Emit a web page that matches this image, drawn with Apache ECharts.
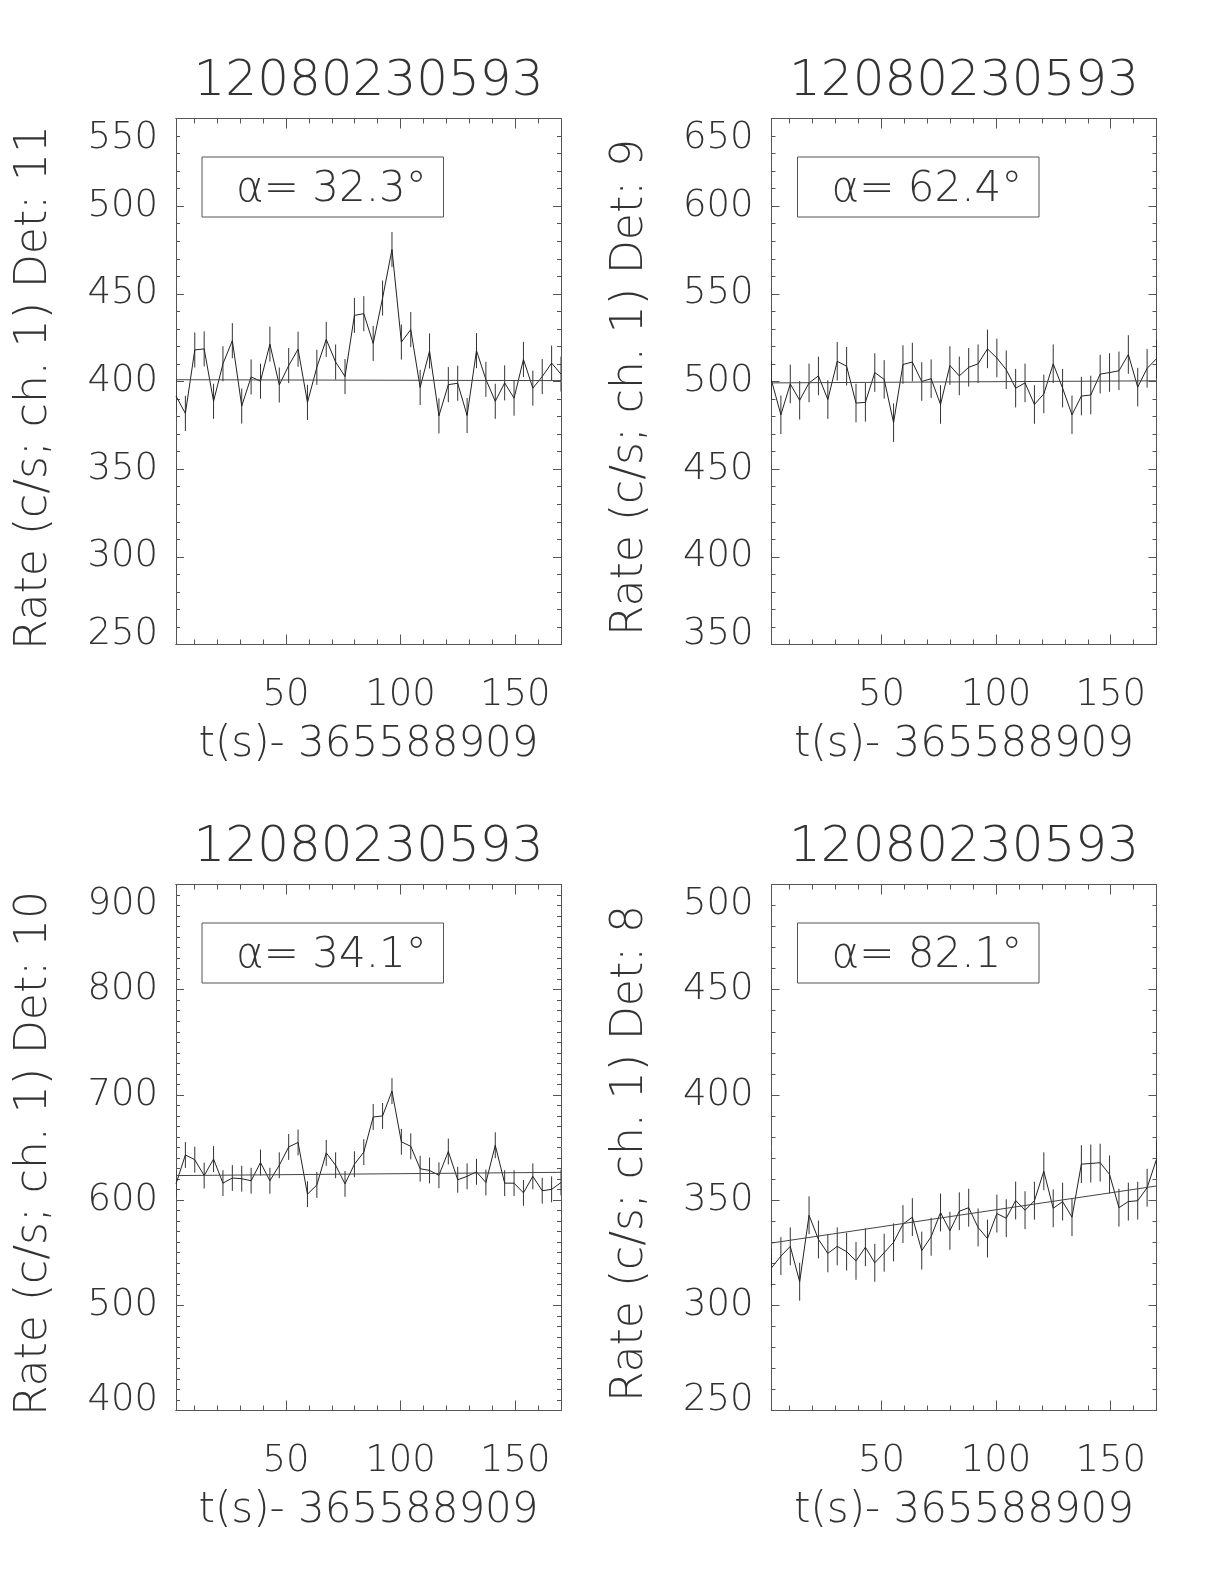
<!DOCTYPE html>
<html>
<head>
<meta charset="utf-8">
<script src="https://cdn.jsdelivr.net/npm/echarts@6/dist/echarts.min.js"></script>
<style>
html,body{margin:0;padding:0;background:#fff;}
#chart{width:1224px;height:1584px;}
</style>
</head>
<body>
<div id="chart"></div>
<script>
// ---------------- data ----------------
const burstName = '12080230593';
const xTitle = 't(s)- 365588909';
const times = [2.048, 6.144, 10.24, 14.336, 18.432, 22.528, 26.624, 30.72, 34.816, 38.912,
  43.008, 47.104, 51.2, 55.296, 59.392, 63.488, 67.584, 71.68, 75.776, 79.872,
  83.968, 88.064, 92.16, 96.256, 100.352, 104.448, 108.544, 112.64, 116.736, 120.832,
  124.928, 129.024, 133.12, 137.216, 141.312, 145.408, 149.504, 153.6, 157.696, 161.792,
  165.888, 169.984];
const xMajorTicks = [50, 100, 150];
const xMinorTicks = [10, 20, 30, 40, 60, 70, 80, 90, 110, 120, 130, 140, 160];

const rateDet11 = [391.7, 381.8, 418.0, 418.6, 388.7, 410.1, 423.3, 386.0, 402.6, 400.2,
  421.3, 398.0, 409.1, 418.4, 388.1, 408.1, 424.0, 411.1, 402.8, 437.7,
  438.7, 421.7, 447.6, 475.3, 422.5, 429.6, 396.6, 417.4, 380.4, 398.2,
  399.0, 380.6, 417.6, 401.2, 388.7, 399.2, 390.5, 412.6, 396.2, 402.8,
  410.5, 404.2];
const rateDet9 = [500.6, 481.0, 498.6, 489.3, 499.2, 503.2, 489.7, 511.5, 508.7, 487.7,
  488.1, 505.1, 501.2, 476.5, 509.7, 511.1, 500.0, 501.6, 486.9, 509.1,
  503.2, 508.1, 510.1, 518.6, 513.4, 506.7, 496.2, 499.2, 486.9, 492.9,
  510.1, 496.2, 481.0, 491.7, 492.3, 504.2, 505.1, 506.1, 515.4, 496.8,
  507.5, 513.0];
const rateDet10 = [615.4, 642.9, 638.4, 623.3, 639.0, 616.1, 621.0, 620.3, 618.4, 635.7,
  618.4, 633.1, 650.5, 654.8, 605.6, 614.4, 644.9, 633.1, 615.4, 634.1,
  645.6, 679.0, 680.0, 703.6, 655.4, 651.1, 629.8, 628.2, 623.6, 646.2,
  619.3, 622.6, 626.9, 616.7, 652.1, 616.1, 616.1, 606.9, 622.6, 608.9,
  610.2, 616.7];
const rateDet8 = [317.8, 323.4, 328.0, 311.2, 342.8, 331.3, 324.7, 328.0, 325.5, 321.1,
  327.6, 320.2, 325.0, 329.9, 338.6, 341.9, 326.0, 332.6, 344.1, 335.4,
  344.7, 346.4, 337.0, 331.7, 343.6, 341.4, 349.8, 345.2, 349.7, 363.7,
  346.1, 349.3, 341.9, 367.1, 367.4, 367.8, 362.2, 346.4, 349.3, 349.7,
  355.9, 369.4];

// error bar half-widths (c/s)
const errDet11 = 10.0;
const errDet9 = 11.0;
const errDet10 = 12.3;
const errDet8 = 9.0;

// linear background fit, values at first and last time
const fitDet11 = [401.0, 400.5];
const fitDet9 = [499.2, 500.4];
const fitDet10 = [623.3, 626.4];
const fitDet8 = [329.6, 356.7];

const detectors = ['11', '9', '10', '8'];
const angles = ['32.3', '62.4', '34.1', '82.1'];
const yRanges = [[250, 550, 50], [350, 650, 50], [400, 900, 100], [250, 500, 50]];

// ---------------- layout ----------------
const FONT = "'DejaVu Sans', 'Liberation Sans', sans-serif";
const TXT = '#333';
const AX = '#555';
const gridPos = [
  {left: 176, top: 118.5},
  {left: 771.5, top: 118.5},
  {left: 176, top: 884.5},
  {left: 771.5, top: 884.5}
];
const GW = 385, GH = 526;

const rates = [rateDet11, rateDet9, rateDet10, rateDet8];
const errs = [errDet11, errDet9, errDet10, errDet8];
const fits = [fitDet11, fitDet9, fitDet10, fitDet8];
const tMin = times[0], tMax = times[times.length - 1];

const grids = [], xAxes = [], yAxes = [], series = [], titles = [], graphics = [];

gridPos.forEach((g, k) => {
  grids.push({left: g.left, top: g.top, width: GW, height: GH, containLabel: false, outerBoundsMode: 'none'});
  const baseX = {
    type: 'value', gridIndex: k, min: tMin, max: tMax, splitLine: {show: false},
    axisLine: {show: true, onZero: false, lineStyle: {color: AX, width: 1}},
    axisLabel: {show: false}
  };
  const tickStyle = {color: AX, width: 1};
  xAxes.push(Object.assign({}, baseX, {
    position: 'bottom',
    axisTick: {show: true, inside: true, length: 10, customValues: xMajorTicks, lineStyle: tickStyle},
    axisLabel: {show: true, customValues: xMajorTicks, fontSize: 37, fontFamily: FONT, fontWeight: 200, color: TXT, margin: 32},
    name: xTitle, nameLocation: 'middle', nameGap: 80,
    nameTextStyle: {fontSize: 42, fontFamily: FONT, fontWeight: 200, color: TXT}
  }));
  xAxes.push(Object.assign({}, baseX, {
    position: 'bottom',
    axisTick: {show: true, inside: true, length: 5, customValues: xMinorTicks, lineStyle: tickStyle}
  }));
  xAxes.push(Object.assign({}, baseX, {
    position: 'top',
    axisTick: {show: true, inside: true, length: 10, customValues: xMajorTicks, lineStyle: tickStyle}
  }));
  xAxes.push(Object.assign({}, baseX, {
    position: 'top',
    axisTick: {show: true, inside: true, length: 5, customValues: xMinorTicks, lineStyle: tickStyle}
  }));

  const yr = yRanges[k];
  const baseY = {
    type: 'value', gridIndex: k, min: yr[0], max: yr[1], interval: yr[2], splitLine: {show: false},
    axisLine: {show: true, onZero: false, lineStyle: {color: AX, width: 1}},
    axisTick: {show: true, inside: true, length: 8, lineStyle: tickStyle},
    minorTick: {show: true, splitNumber: yr[2] / 10, length: 4, lineStyle: tickStyle},
    minorSplitLine: {show: false}
  };
  yAxes.push(Object.assign({}, baseY, {
    position: 'left',
    axisLabel: {show: true, fontSize: 37, fontFamily: FONT, fontWeight: 200, color: TXT, margin: 18,
      lineHeight: 20, padding: [10, 0, 0, 0],
      verticalAlignMinLabel: 'bottom', verticalAlignMaxLabel: 'top'},
    name: 'Rate (c/s; ch. 1) Det: ' + detectors[k], nameLocation: 'middle', nameGap: 119,
    nameTextStyle: {fontSize: 44, fontFamily: FONT, fontWeight: 200, color: TXT, padding: [0, 12, 0, 0]}
  }));
  yAxes.push(Object.assign({}, baseY, {position: 'right', axisLabel: {show: false}}));

  const xi = k * 4, yi = k * 2;
  const r = rates[k], e = errs[k], f = fits[k];
  series.push({
    type: 'custom', xAxisIndex: xi, yAxisIndex: yi, silent: true, clip: true,
    data: times.map((t, i) => [t, r[i], e]),
    renderItem: function (params, api) {
      const x = api.value(0), y = api.value(1), d = api.value(2);
      const p1 = api.coord([x, y + d]);
      const p2 = api.coord([x, y - d]);
      return {type: 'line', shape: {x1: p1[0], y1: p1[1], x2: p2[0], y2: p2[1]},
        style: {stroke: '#333', lineWidth: 1}};
    },
    z: 2
  });
  series.push({
    type: 'line', xAxisIndex: xi, yAxisIndex: yi, silent: true,
    data: times.map((t, i) => [t, r[i]]),
    symbol: 'none', lineStyle: {color: '#222', width: 1}, z: 3
  });
  series.push({
    type: 'line', xAxisIndex: xi, yAxisIndex: yi, silent: true,
    data: [[tMin, f[0]], [tMax, f[1]]],
    symbol: 'none', lineStyle: {color: '#444', width: 1}, z: 3
  });

  titles.push({
    text: burstName, left: g.left + GW / 2, top: g.top - 61, textAlign: 'center', padding: 0,
    textStyle: {fontSize: 50, fontFamily: FONT, fontWeight: 200, color: TXT}
  });

  graphics.push({
    type: 'rect', shape: {x: g.left + 26, y: g.top + 38.5, width: 241.5, height: 60},
    style: {fill: 'none', stroke: '#555', lineWidth: 1}, z: 10
  });
  graphics.push({
    type: 'text', x: g.left + 60, y: g.top + 72,
    style: {
      text: 'α= ' + angles[k] + '°',
      fontSize: 42, fontFamily: FONT, fontWeight: 200, fill: TXT, verticalAlign: 'middle'
    }, z: 10
  });
});

const chart = echarts.init(document.getElementById('chart'), null, {renderer: 'canvas'});
chart.setOption({
  animation: false,
  backgroundColor: '#fff',
  title: titles,
  grid: grids,
  xAxis: xAxes,
  yAxis: yAxes,
  series: series,
  graphic: graphics
});
</script>
</body>
</html>
